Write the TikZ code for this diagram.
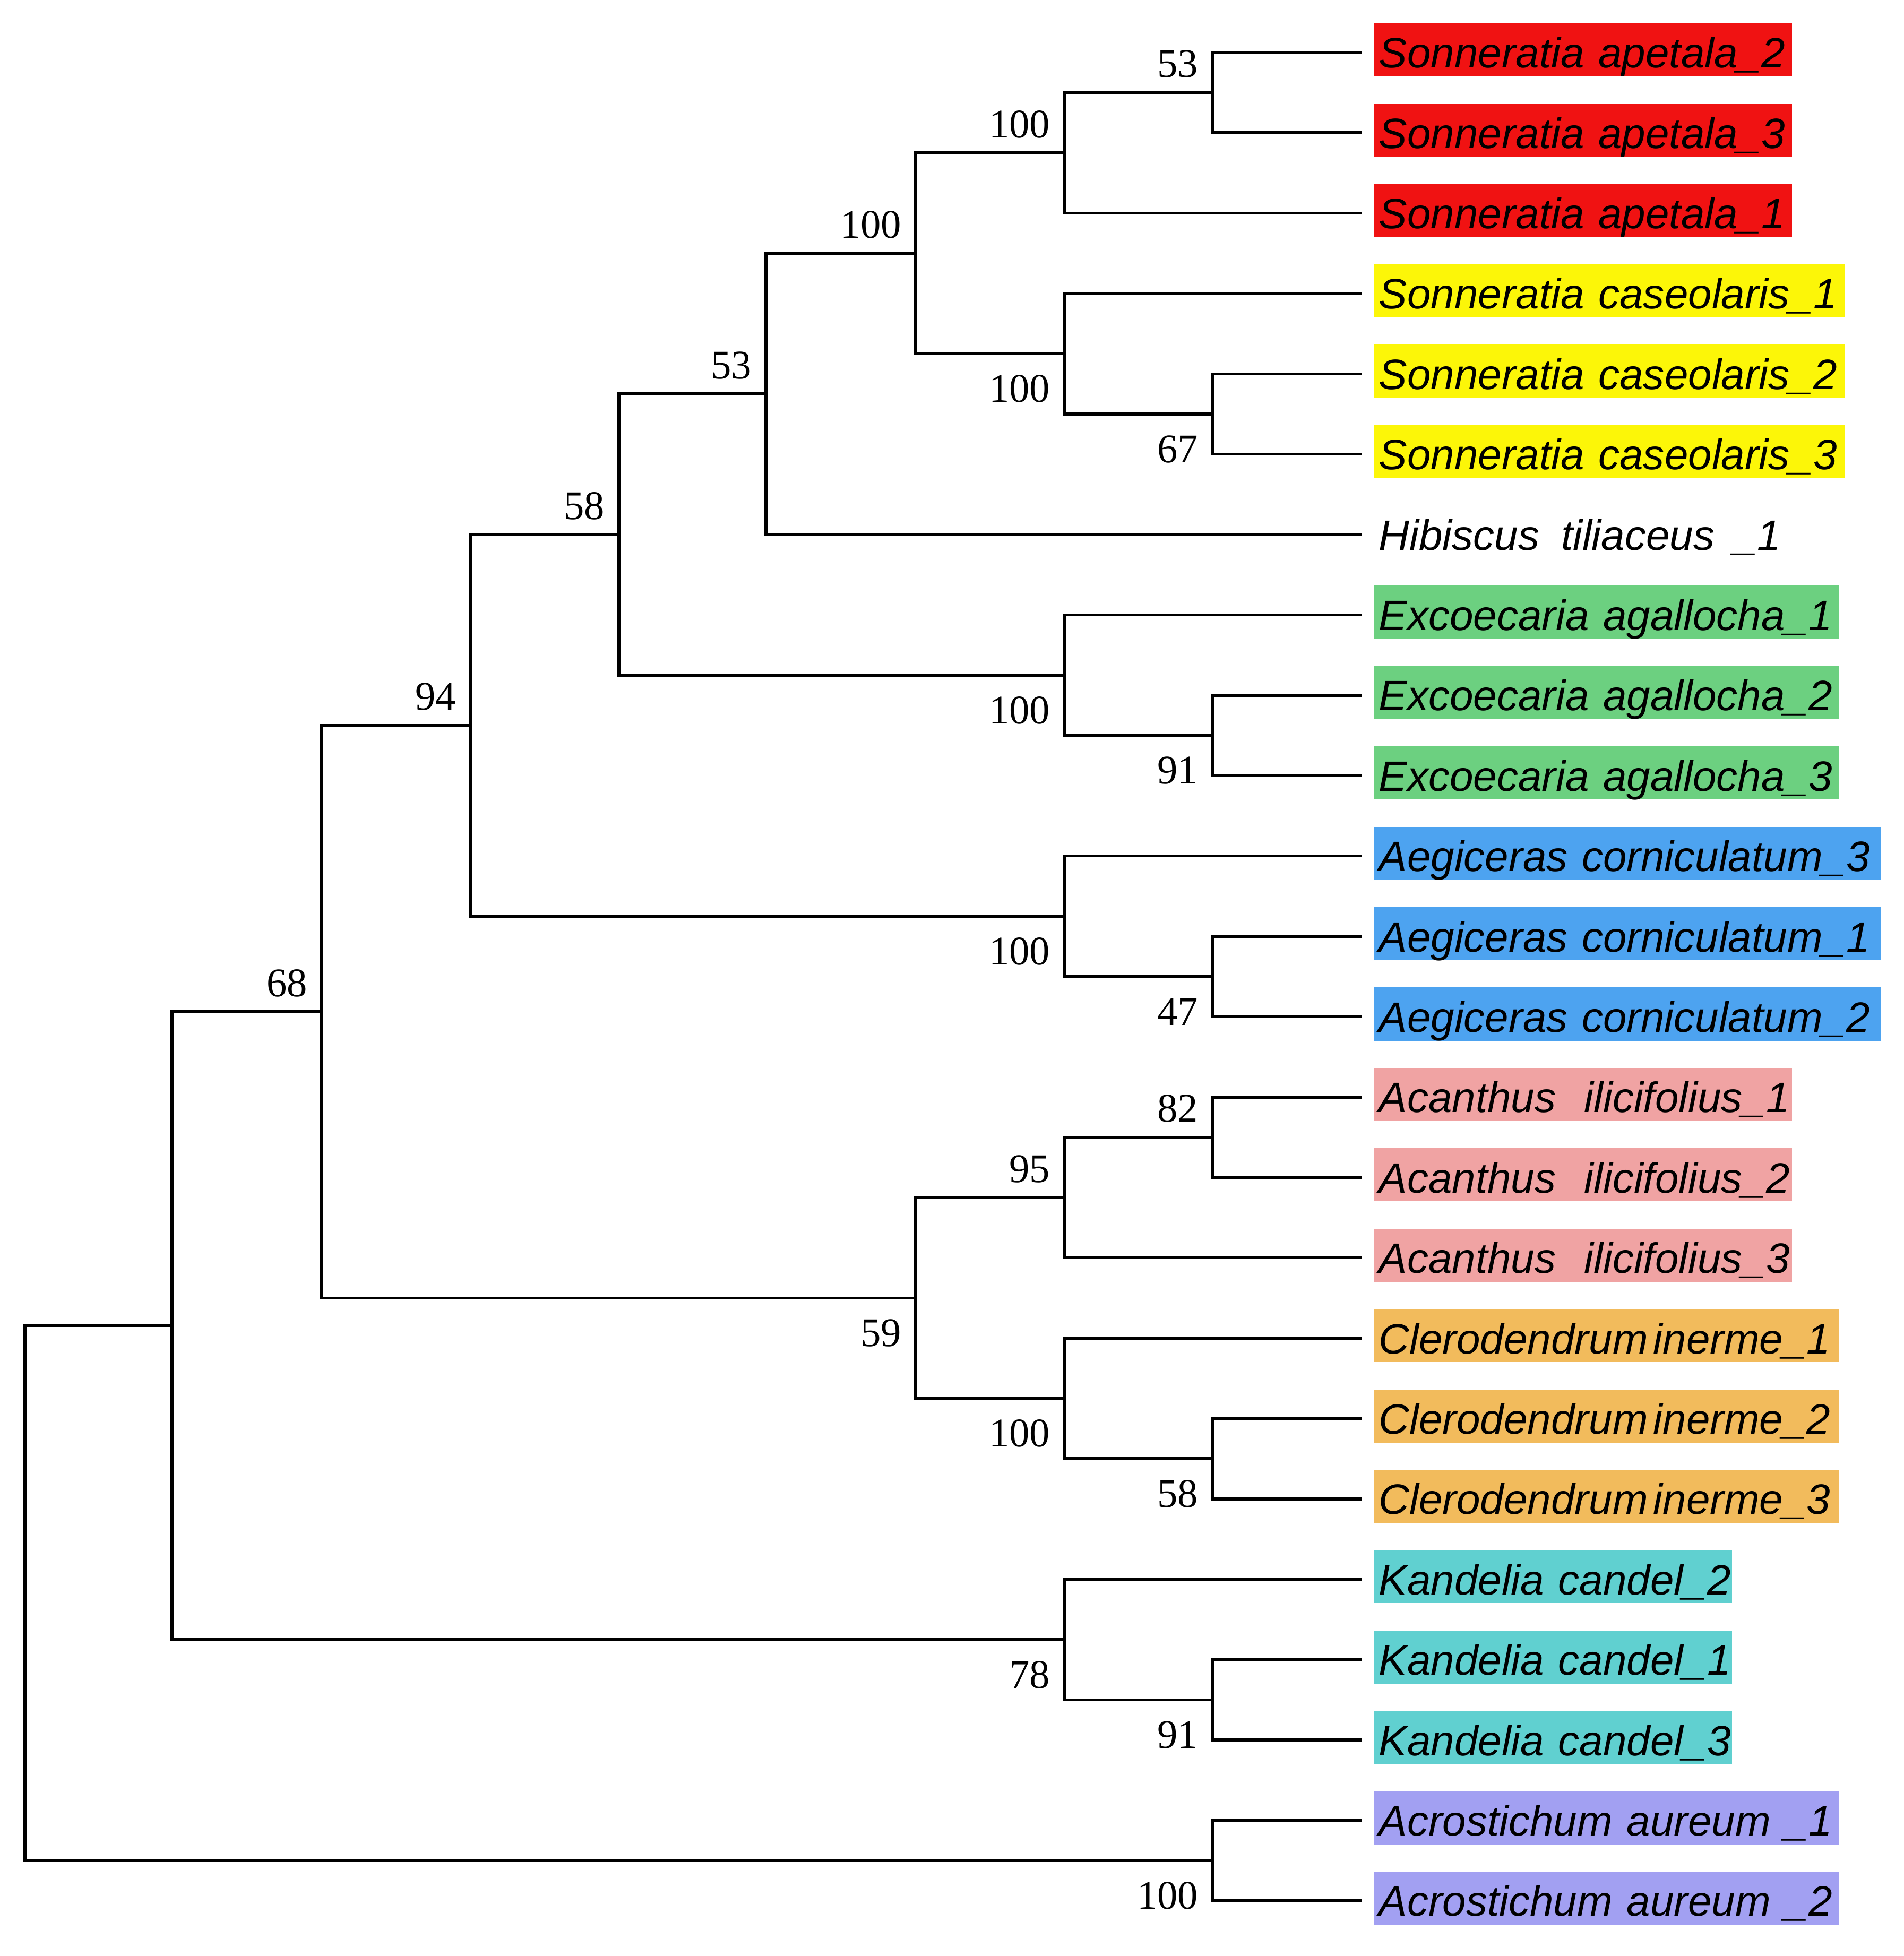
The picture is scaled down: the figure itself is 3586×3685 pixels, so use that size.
\documentclass[tikz,border=0pt]{standalone}
\usepackage{fontspec}
\setmainfont{Liberation Serif}
\newfontfamily\labfont{Liberation Sans}
\definecolor{cRed}{RGB}{240,18,18}
\definecolor{cYel}{RGB}{252,246,8}
\definecolor{cGrn}{RGB}{108,208,128}
\definecolor{cBlu}{RGB}{77,163,240}
\definecolor{cPnk}{RGB}{240,163,163}
\definecolor{cOrg}{RGB}{242,187,92}
\definecolor{cCyn}{RGB}{96,208,208}
\definecolor{cPur}{RGB}{162,160,242}
\begin{document}
\begin{tikzpicture}[x=0.01cm,y=-0.01cm,
  br/.style={line width=0.055cm, line join=miter, line cap=rect},
  leaf/.style={anchor=west, inner xsep=0.09cm, inner ysep=0pt, text height=0.84cm, text depth=0.16cm, align=left, font=\labfont\itshape\fontsize{22.76pt}{27pt}\selectfont},
  wAp/.style={text width=7.69cm},
  wCa/.style={text width=8.68cm},
  wEx/.style={text width=8.58cm},
  wAe/.style={text width=9.37cm},
  wKa/.style={text width=6.56cm},
  bs/.style={anchor=east, inner sep=0pt, font=\fontsize{21.8pt}{25pt}\selectfont},
  ab/.style={bs, xshift=-0.26cm, yshift=0.54cm},
  be/.style={bs, xshift=-0.26cm, yshift=-0.66cm},
]
\useasboundingbox[fill=white] (0,0) rectangle (3586,3685);

% leaf tips
\coordinate (t1) at (2562,98.7);
\coordinate (t2) at (2562,250.1);
\coordinate (t3) at (2562,401.5);
\coordinate (t4) at (2562,552.9);
\coordinate (t5) at (2562,704.3);
\coordinate (t6) at (2562,855.7);
\coordinate (t7) at (2562,1007.1);
\coordinate (t8) at (2562,1158.5);
\coordinate (t9) at (2562,1309.9);
\coordinate (t10) at (2562,1461.3);
\coordinate (t11) at (2562,1612.7);
\coordinate (t12) at (2562,1764.1);
\coordinate (t13) at (2562,1915.5);
\coordinate (t14) at (2562,2066.9);
\coordinate (t15) at (2562,2218.3);
\coordinate (t16) at (2562,2369.7);
\coordinate (t17) at (2562,2521.1);
\coordinate (t18) at (2562,2672.5);
\coordinate (t19) at (2562,2823.9);
\coordinate (t20) at (2562,2975.3);
\coordinate (t21) at (2562,3126.7);
\coordinate (t22) at (2562,3278.1);
\coordinate (t23) at (2562,3429.5);
\coordinate (t24) at (2562,3580.9);

% leaf labels
\node[leaf,wAp,fill=cRed] (n1) at (2588,93.7) {\mbox{Sonneratia apetala\_2}};
\node[leaf,wAp,fill=cRed] (n2) at (2588,245.1) {\mbox{Sonneratia apetala\_3}};
\node[leaf,wAp,fill=cRed] (n3) at (2588,396.5) {\mbox{Sonneratia apetala\_1}};
\node[leaf,wCa,fill=cYel] (n4) at (2588,547.9) {\mbox{Sonneratia caseolaris\_1}};
\node[leaf,wCa,fill=cYel] (n5) at (2588,699.3) {\mbox{Sonneratia caseolaris\_2}};
\node[leaf,wCa,fill=cYel] (n6) at (2588,850.7) {\mbox{Sonneratia caseolaris\_3}};
\node[leaf,wCa] (n7) at (2588,1002.1) {\mbox{Hibiscus\hspace{0.41cm}tiliaceus\hspace{0.36cm}\_1}};
\node[leaf,wEx,fill=cGrn] (n8) at (2588,1153.5) {\mbox{Excoecaria agallocha\_1}};
\node[leaf,wEx,fill=cGrn] (n9) at (2588,1304.9) {\mbox{Excoecaria agallocha\_2}};
\node[leaf,wEx,fill=cGrn] (n10) at (2588,1456.3) {\mbox{Excoecaria agallocha\_3}};
\node[leaf,wAe,fill=cBlu] (n11) at (2588,1607.7) {\mbox{Aegiceras corniculatum\_3}};
\node[leaf,wAe,fill=cBlu] (n12) at (2588,1759.1) {\mbox{Aegiceras corniculatum\_1}};
\node[leaf,wAe,fill=cBlu] (n13) at (2588,1910.5) {\mbox{Aegiceras corniculatum\_2}};
\node[leaf,wAp,fill=cPnk] (n14) at (2588,2061.9) {\mbox{Acanthus~~ilicifolius\_1}};
\node[leaf,wAp,fill=cPnk] (n15) at (2588,2213.3) {\mbox{Acanthus~~ilicifolius\_2}};
\node[leaf,wAp,fill=cPnk] (n16) at (2588,2364.7) {\mbox{Acanthus~~ilicifolius\_3}};
\node[leaf,wEx,fill=cOrg] (n17) at (2588,2516.1) {\mbox{Clerodendrum\hspace{0.1cm}inerme\_1}};
\node[leaf,wEx,fill=cOrg] (n18) at (2588,2667.5) {\mbox{Clerodendrum\hspace{0.1cm}inerme\_2}};
\node[leaf,wEx,fill=cOrg] (n19) at (2588,2818.9) {\mbox{Clerodendrum\hspace{0.1cm}inerme\_3}};
\node[leaf,wKa,fill=cCyn] (n20) at (2588,2970.3) {\mbox{Kandelia candel\_2}};
\node[leaf,wKa,fill=cCyn] (n21) at (2588,3121.7) {\mbox{Kandelia candel\_1}};
\node[leaf,wKa,fill=cCyn] (n22) at (2588,3273.1) {\mbox{Kandelia candel\_3}};
\node[leaf,wEx,fill=cPur] (n23) at (2588,3424.5) {\mbox{Acrostichum aureum~\_1}};
\node[leaf,wEx,fill=cPur] (n24) at (2588,3575.9) {\mbox{Acrostichum aureum~\_2}};

% internal nodes
\coordinate (p1) at (2284,174.4);
\coordinate (p2) at (2005,287.95);
\coordinate (p3) at (2284,780);
\coordinate (p4) at (2005,666.45);
\coordinate (p5) at (1725,477.2);
\coordinate (p6) at (1443,742.15);
\coordinate (p7) at (2284,1385.6);
\coordinate (p8) at (2005,1272.05);
\coordinate (p9) at (1166,1007.1);
\coordinate (p10) at (2284,1839.8);
\coordinate (p11) at (2005,1726.25);
\coordinate (p12) at (886,1366.675);
\coordinate (p13) at (2284,2142.6);
\coordinate (p14) at (2005,2256.15);
\coordinate (p15) at (2284,2748.2);
\coordinate (p16) at (2005,2634.65);
\coordinate (p17) at (1725,2445.4);
\coordinate (p18) at (606,1906.04);
\coordinate (p19) at (2284,3202.4);
\coordinate (p20) at (2005,3088.85);
\coordinate (p21) at (324,2497.4);
\coordinate (p22) at (2284,3505.2);
\coordinate (root) at (47,3001.3);

% branches
\draw[br] (t1) -| (p1) |- (t2);
\draw[br] (p1) -| (p2) |- (t3);
\draw[br] (t5) -| (p3) |- (t6);
\draw[br] (t4) -| (p4) |- (p3);
\draw[br] (p2) -| (p5) |- (p4);
\draw[br] (p5) -| (p6) |- (t7);
\draw[br] (t9) -| (p7) |- (t10);
\draw[br] (t8) -| (p8) |- (p7);
\draw[br] (p6) -| (p9) |- (p8);
\draw[br] (t12) -| (p10) |- (t13);
\draw[br] (t11) -| (p11) |- (p10);
\draw[br] (p9) -| (p12) |- (p11);
\draw[br] (t14) -| (p13) |- (t15);
\draw[br] (p13) -| (p14) |- (t16);
\draw[br] (t18) -| (p15) |- (t19);
\draw[br] (t17) -| (p16) |- (p15);
\draw[br] (p14) -| (p17) |- (p16);
\draw[br] (p12) -| (p18) |- (p17);
\draw[br] (t21) -| (p19) |- (t22);
\draw[br] (t20) -| (p20) |- (p19);
\draw[br] (p18) -| (p21) |- (p20);
\draw[br] (t23) -| (p22) |- (t24);
\draw[br] (p21) -| (root) |- (p22);

% bootstrap values
\node[ab] (b1) at (p1) {53};
\node[ab] (b2) at (p2) {100};
\node[be] (b3) at (p3) {67};
\node[be] (b4) at (p4) {100};
\node[ab] (b5) at (p5) {100};
\node[ab] (b6) at (p6) {53};
\node[be] (b7) at (p7) {91};
\node[be] (b8) at (p8) {100};
\node[ab] (b9) at (p9) {58};
\node[be] (b10) at (p10) {47};
\node[be] (b11) at (p11) {100};
\node[ab] (b12) at (p12) {94};
\node[ab] (b13) at (p13) {82};
\node[ab] (b14) at (p14) {95};
\node[be] (b15) at (p15) {58};
\node[be] (b16) at (p16) {100};
\node[be] (b17) at (p17) {59};
\node[ab] (b18) at (p18) {68};
\node[be] (b19) at (p19) {91};
\node[be] (b20) at (p20) {78};
\node[be] (b22) at (p22) {100};
\end{tikzpicture}
\end{document}
